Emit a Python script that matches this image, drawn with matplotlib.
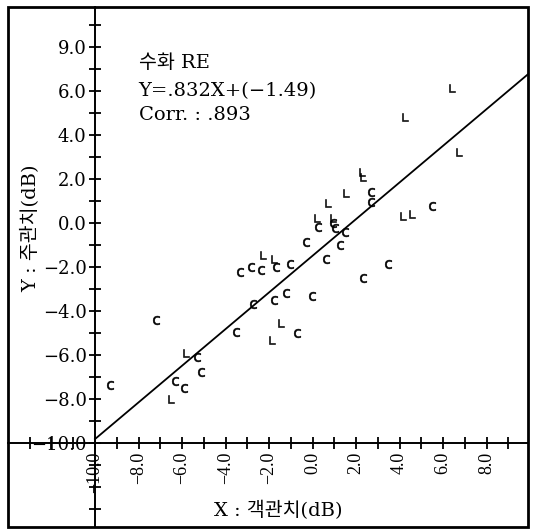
import numpy as np
import matplotlib.pyplot as plt
from matplotlib.patches import Rectangle

plt.rcParams['font.family'] = ['DejaVu Serif', 'Noto Sans CJK KR']
plt.rcParams['axes.unicode_minus'] = True

# ---------------- data ----------------
# points drawn with a "c" glyph
c_x = [-9.33, -7.19, -5.33, -5.12, -6.34, -5.89,
       -3.51, -2.74, -3.32, -2.85, -2.36, -1.67, -1.06, -1.75, -1.21, -0.01, -0.72,
       -0.29, 0.63, 1.24, 1.47, 0.24, 0.93, 1.01, 2.70, 2.70, 3.46, 2.31, 5.47]
c_y = [-7.36, -4.41, -6.09, -6.76, -7.17, -7.47,
       -4.94, -3.70, -2.21, -2.01, -2.14, -1.99, -1.86, -3.50, -3.20, -3.32, -4.99,
       -0.85, -1.65, -1.00, -0.40, -0.17, -0.01, -0.24, 1.42, 0.97, -1.86, -2.51, 0.77]

# points drawn with an "L" glyph
l_x = [-5.84, -6.50, -2.29, -1.75, -1.44, -1.85, 0.20, 0.93, 0.70, 1.55, 2.29, 2.34,
       6.39, 4.23, 6.71, 4.14, 4.55]
l_y = [-5.91, -7.97, -1.45, -1.64, -4.56, -5.32, 0.24, 0.21, 0.90, 1.35, 2.29, 2.09,
       6.14, 4.82, 3.23, 0.32, 0.41]

slope = 0.832
intercept = -1.49

y_ticks = [8, 6, 4, 2, 0, -2, -4, -6, -8, -10]
y_labels = ['9.0', '6.0', '4.0', '2.0', '0.0', '\u22122.0', '\u22124.0', '\u22126.0', '\u22128.0', '\u221210.0']
x_ticks = [-10, -8, -6, -4, -2, 0, 2, 4, 6, 8]
x_labels = ['\u221210.0', '\u22128.0', '\u22126.0', '\u22124.0', '\u22122.0', '0.0', '2.0', '4.0', '6.0', '8.0']

# ---------------- figure ----------------
fig = plt.figure(figsize=(5.39, 5.29), dpi=100)
ax = fig.add_axes([0.0148, 0.0038, 0.9647, 0.983])
ax.set_xlim(-14.0, 9.9)
ax.set_ylim(-13.8, 9.8)

# axes cross at (-10, -10), outer frame drawn separately
ax.spines['left'].set_position(('data', -10))
ax.spines['bottom'].set_position(('data', -10))
ax.spines['right'].set_visible(False)
ax.spines['top'].set_visible(False)
for s in ['left', 'bottom']:
    ax.spines[s].set_linewidth(1.4)
ax.add_patch(Rectangle((0, 0), 1, 1, transform=ax.transAxes, fill=False,
                       lw=2.0, edgecolor='black', clip_on=False))

ax.set_xticks(x_ticks)
ax.set_xticklabels(x_labels, rotation=90, fontsize=13, family=['Liberation Serif'])
ax.set_yticks(y_ticks)
ax.set_yticklabels(y_labels, fontsize=13)
ax.set_xticks(np.arange(-13, 10), minor=True)
ax.set_yticks(np.arange(-13, 10), minor=True)
ax.tick_params(which='both', direction='inout', length=9, width=1.3, pad=1.5)

# regression line
lx = np.array([-10, 9.9])
ax.plot(lx, slope * lx + intercept, color='black', lw=1.3)

ax.scatter(c_x, c_y, marker=r'$\mathrm{c}$', s=40, color='black', linewidths=0.4)
ax.scatter(l_x, l_y, marker=r'$\mathrm{L}$', s=40, color='black', linewidths=0.4)

ax.text(-8.0, 7.27, '수화 RE', fontsize=14, va='center')
ax.text(-8.0, 6.0, 'Y=.832X+(\u22121.49)', fontsize=14, va='center')
ax.text(-8.0, 4.91, 'Corr. : .893', fontsize=14, va='center')

ax.text(-12.95, -0.23, 'Y : 주관치(dB)', rotation=90, fontsize=14, ha='center', va='center')
ax.text(-1.6, -13.05, 'X : 객관치(dB)', fontsize=14, ha='center', va='center')

fig.savefig('out.png', dpi=100)
